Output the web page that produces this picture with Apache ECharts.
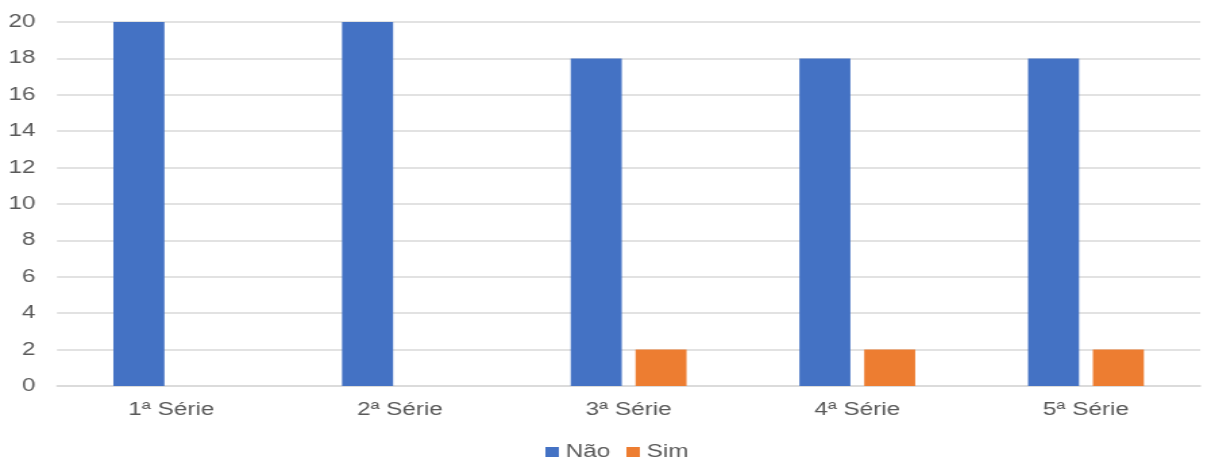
<!DOCTYPE html>
<html>
<head>
<meta charset="utf-8">
<script src="https://cdn.jsdelivr.net/npm/echarts@6/dist/echarts.min.js"></script>
<style>
html,body{margin:0;padding:0;background:#fff;overflow:hidden}
#c{width:895px;height:461px;transform:scaleX(1.35);transform-origin:0 0}
</style>
</head>
<body>
<div id="c"></div>
<script>
const categories = ['1ª Série', '2ª Série', '3ª Série', '4ª Série', '5ª Série'];
const nao = [20, 20, 18, 18, 18];
const sim = [0, 0, 2, 2, 2];
const yTicks = { min: 0, max: 20, interval: 2 };

const chart = echarts.init(document.getElementById('c'));
const font = 'Arial, "Liberation Sans", sans-serif';
chart.setOption({
  animation: false,
  grid: { left: 42.2, right: 5.9, top: 22, bottom: 75 },
  legend: {
    bottom: -5, left: 399,
    itemWidth: 10, itemHeight: 10, itemGap: 12,
    icon: 'rect',
    textStyle: { color: '#595959', fontSize: 18, fontFamily: font },
    data: ['Não', 'Sim']
  },
  xAxis: {
    type: 'category', data: categories,
    axisLine: { lineStyle: { color: '#d9d9d9', width: 1.5 } },
    axisTick: { show: false },
    axisLabel: { color: '#595959', fontSize: 18, fontFamily: font, margin: 15 }
  },
  yAxis: {
    type: 'value', min: yTicks.min, max: yTicks.max, interval: yTicks.interval,
    axisLine: { show: false }, axisTick: { show: false },
    splitLine: { lineStyle: { color: '#d9d9d9', width: 1.5 } },
    axisLabel: { color: '#595959', fontSize: 18, fontFamily: font, margin: 16 }
  },
  series: [
    { name: 'Não', type: 'bar', data: nao, barWidth: 37.8, barGap: '27%', itemStyle: { color: '#4472c4' } },
    { name: 'Sim', type: 'bar', data: sim, barWidth: 37.8, itemStyle: { color: '#ed7d31' } }
  ]
});
</script>
</body>
</html>
